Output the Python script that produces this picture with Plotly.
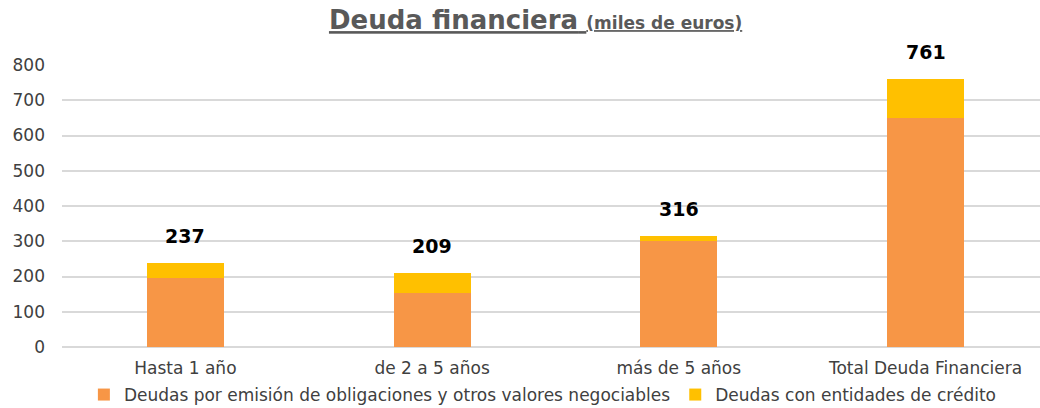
import plotly.graph_objects as go

categories = ["Hasta 1 año", "de 2 a 5 años", "más de 5 años", "Total Deuda Financiera"]
obligaciones = [197, 152, 300, 649]
entidades = [40, 57, 16, 112]
totals = [237, 209, 316, 761]
y_ticks = [0, 100, 200, 300, 400, 500, 600, 700, 800]

series_names = ["Deudas por emisión de obligaciones y otros valores negociables",
                "Deudas con entidades de crédito"]
colors = ["#F79646", "#FFC000"]

FONT = "DejaVu Sans"

fig = go.Figure()
fig.add_trace(go.Bar(x=categories, y=obligaciones, name=series_names[0],
                     marker=dict(color=colors[0], line=dict(width=0)), width=0.312))
fig.add_trace(go.Bar(x=categories, y=entidades, name=series_names[1],
                     marker=dict(color=colors[1], line=dict(width=0)), width=0.312))

for c, t in zip(categories, totals):
    fig.add_annotation(x=c, y=t, text=f"<b>{t}</b>", showarrow=False,
                       yshift=27, yanchor="middle",
                       font=dict(family=FONT, size=19, color="#000000"))

fig.update_layout(
    barmode="stack",
    width=1040, height=408,
    margin=dict(l=62, r=0, t=65, b=61),
    paper_bgcolor="white", plot_bgcolor="white",
    font=dict(family=FONT, size=17, color="#404040"),
    title=dict(
        text="<u><b>Deuda financiera</b> <span style='font-size:17px'><b>(miles de euros)</b></span></u>",
        x=0.515, xref="container", xanchor="center",
        y=1 - 20 / 408, yref="container", yanchor="middle",
        font=dict(family=FONT, size=26, color="#595959"),
    ),
    xaxis=dict(range=[-0.5, 3.464], showgrid=False, showline=False, ticks="",
               ticklabelstandoff=9, tickfont=dict(size=17, color="#404040")),
    yaxis=dict(range=[0, 800], tickvals=y_ticks, showgrid=True, gridcolor="#D9D9D9",
               gridwidth=1.5, zeroline=True, zerolinecolor="#D9D9D9", zerolinewidth=1.5,
               showline=False, ticks="", ticklabelstandoff=16,
               tickfont=dict(size=17, color="#404040")),
    legend=dict(orientation="h", xref="container", yref="container",
                x=0.522, xanchor="center", y=(408 - 395) / 408, yanchor="middle",
                font=dict(size=17, color="#404040"), itemwidth=30,
                traceorder="normal", tracegroupgap=0),
    bargap=0,
    showlegend=True,
)

fig.write_html("out.html")
